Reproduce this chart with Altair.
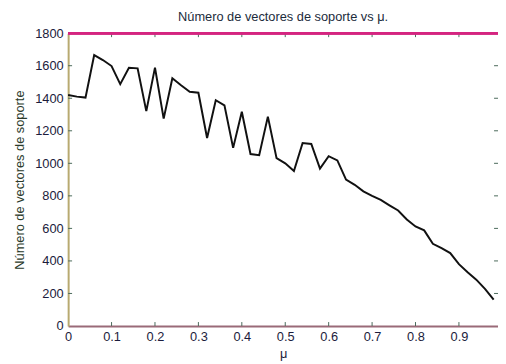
import altair as alt
import pandas as pd

mu = [0.00, 0.02, 0.04, 0.06, 0.08, 0.10, 0.12, 0.14, 0.16, 0.18,
      0.20, 0.22, 0.24, 0.26, 0.28, 0.30, 0.32, 0.34, 0.36, 0.38,
      0.40, 0.42, 0.44, 0.46, 0.48, 0.50, 0.52, 0.54, 0.56, 0.58,
      0.60, 0.62, 0.64, 0.66, 0.68, 0.70, 0.72, 0.74, 0.76, 0.78,
      0.80, 0.82, 0.84, 0.86, 0.88, 0.90, 0.92, 0.94, 0.96, 0.98]
n_sv = [1420, 1410, 1404, 1665, 1635, 1598, 1487, 1588, 1584, 1321,
        1588, 1275, 1523, 1480, 1440, 1434, 1156, 1388, 1356, 1095,
        1317, 1057, 1050, 1287, 1032, 1000, 953, 1125, 1119, 968,
        1044, 1018, 900, 868, 828, 800, 775, 742, 710, 655,
        612, 588, 505, 478, 448, 380, 330, 285, 228, 162]

x_ticks = [0, 0.1, 0.2, 0.3, 0.4, 0.5, 0.6, 0.7, 0.8, 0.9]
y_ticks = [0, 200, 400, 600, 800, 1000, 1200, 1400, 1600, 1800]

W, H = 436, 297
FONT = "Liberation Sans"
LABEL_COLOR = "#1c1c3c"

df = pd.DataFrame({"mu": mu, "n": n_sv})
xt = pd.DataFrame({"mu": x_ticks[1:]})
yt = pd.DataFrame({"n": y_ticks[1:-1]})

xscale = alt.Scale(domain=[0, 0.99], nice=False, zero=False)
yscale = alt.Scale(domain=[0, 1800], nice=False)

xaxis = alt.Axis(values=x_ticks, title="μ", format="~g", grid=False,
                 tickSize=0, labelPadding=5, titlePadding=4,
                 labelOverlap=False, labelFlush=False,
                 domainColor="#9a6a78", domainWidth=2,
                 labelColor=LABEL_COLOR, titleColor=LABEL_COLOR,
                 labelFont=FONT, titleFont=FONT, labelFontSize=13,
                 titleFontSize=13, titleFontWeight="normal")
yaxis = alt.Axis(values=y_ticks, title="Número de vectores de soporte",
                 format="d", grid=False, tickSize=0, labelPadding=5,
                 titlePadding=8, labelOverlap=False, labelFlush=False,
                 domainColor="#b8aa70", domainWidth=2,
                 labelColor=LABEL_COLOR, titleColor="#2a3a2a",
                 labelFont=FONT, titleFont=FONT, labelFontSize=13,
                 titleFontSize=13, titleFontWeight="normal")

X = alt.X("mu:Q", scale=xscale, axis=xaxis)
Y = alt.Y("n:Q", scale=yscale, axis=yaxis)

line = alt.Chart(df).mark_line(color="#111111", strokeWidth=2).encode(x=X, y=Y)

top_border = alt.Chart(xt).mark_rule(color="#d42580", strokeWidth=2).encode(
    x=alt.value(0), x2=alt.value(W), y=alt.value(0)
)

tick_color = "#4a6a5a"
bottom_ticks = alt.Chart(xt).mark_rule(color=tick_color, strokeWidth=1).encode(
    x=X, y=alt.value(H), y2=alt.value(H - 4)
)
top_ticks = alt.Chart(xt).mark_rule(color=tick_color, strokeWidth=1).encode(
    x=X, y=alt.value(0), y2=alt.value(4)
)
left_ticks = alt.Chart(yt).mark_rule(color=tick_color, strokeWidth=1).encode(
    y=Y, x=alt.value(0), x2=alt.value(4)
)
right_ticks = alt.Chart(yt).mark_rule(color=tick_color, strokeWidth=1).encode(
    y=Y, x=alt.value(W - 4), x2=alt.value(W)
)

chart = alt.layer(
    line, bottom_ticks, top_ticks, left_ticks, right_ticks, top_border
).properties(
    width=W, height=H,
    title=alt.TitleParams("Número de vectores de soporte vs μ.", font=FONT,
                          fontSize=13, fontWeight="normal", color="#1c2c3c",
                          offset=3, anchor="middle"),
    autosize=alt.AutoSizeParams(type="none"),
    padding={"left": 61, "top": 23, "right": 0, "bottom": 36},
).configure_view(stroke=None).configure(background="white")

chart.save("out.html", embed_options={"renderer": "svg", "actions": False})
